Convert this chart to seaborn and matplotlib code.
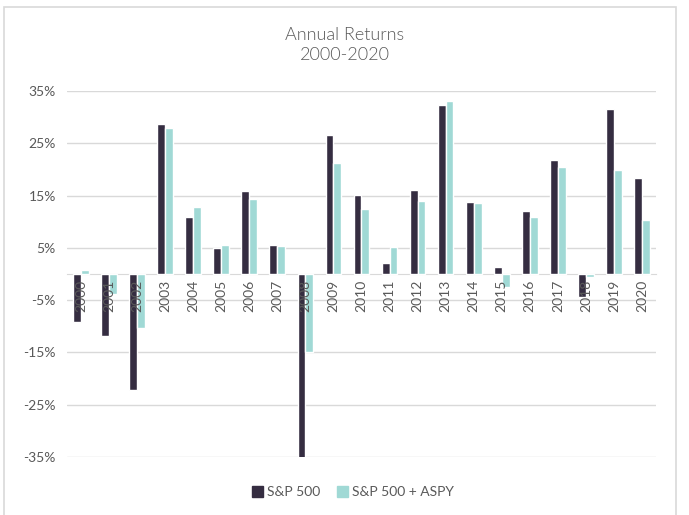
import matplotlib
matplotlib.use("Agg")
import matplotlib.pyplot as plt
import matplotlib.patches as mpatches
import pandas as pd
import seaborn as sns

years = [str(y) for y in range(2000, 2021)]
sp500 = [-9.1, -11.9, -22.1, 28.7, 10.9, 4.9, 15.8, 5.5, -37.0, 26.5, 15.1,
         2.1, 16.0, 32.4, 13.7, 1.4, 12.0, 21.8, -4.4, 31.5, 18.4]
sp500_aspy = [0.7, -3.9, -10.4, 27.9, 12.8, 5.5, 14.3, 5.4, -14.9, 21.2, 12.4,
              5.2, 13.9, 33.1, 13.6, -2.4, 10.9, 20.4, -0.5, 19.8, 10.4]
series_names = ["S&P 500", "S&P 500 + ASPY"]
colors = ["#352d41", "#a0d9d5"]
yticks = [-35, -25, -15, -5, 5, 15, 25, 35]

df = pd.DataFrame({
    "Year": years * 2,
    "Return": sp500 + sp500_aspy,
    "Series": [series_names[0]] * len(years) + [series_names[1]] * len(years),
})

sns.set_style("white")
plt.rcParams["font.family"] = ["Lato", "DejaVu Sans"]
text_color = "#595959"
grid_color = "#d9d9d9"

fig = plt.figure(figsize=(6.89, 5.15), dpi=100)
ax = fig.add_axes([0.0972, 0.1126, 0.8549, 0.7107])

sns.barplot(data=df, x="Year", y="Return", hue="Series", hue_order=series_names,
            palette=colors, width=0.56, gap=0, errorbar=None, saturation=1,
            legend=False, ax=ax)

ax.set_ylim(-35, 35)
ax.set_xlim(-0.5, len(years) - 0.5)
ax.set_yticks(yticks)
ax.set_yticklabels([f"{t}%" for t in yticks], fontsize=10, color=text_color)
ax.yaxis.grid(True, color=grid_color, lw=1)
ax.set_axisbelow(True)
# year labels sit on top of the bars, like in Excel
ax.xaxis.set_zorder(3)
ax.set_xlabel("")
ax.set_ylabel("")

for side in ["top", "right", "left"]:
    ax.spines[side].set_visible(False)
ax.spines["bottom"].set_position(("data", 0))
ax.spines["bottom"].set_color(grid_color)
ax.spines["bottom"].set_zorder(0.5)
ax.tick_params(axis="both", length=0)
ax.tick_params(axis="y", pad=8)
ax.tick_params(axis="x", pad=4)
plt.setp(ax.get_xticklabels(), rotation=90, fontsize=10, color=text_color)

fig.text(0.5, 1 - 45 / 515, "Annual Returns\n2000-2020", ha="center", va="center",
         fontsize=13, color=text_color, linespacing=1.35, fontweight=300)

handles = [mpatches.Patch(color=c, label=n) for c, n in zip(colors, series_names)]
fig.legend(handles=handles, loc="center", bbox_to_anchor=(0.512, 1 - 492 / 515),
           ncol=2, frameon=False, fontsize=10, handlelength=0.8, handleheight=0.8,
           handletextpad=0.3, columnspacing=1.2, labelcolor=text_color)

border = mpatches.Rectangle((4 / 689, -0.05), (676 - 4) / 689, 1.05 - 7 / 515,
                            transform=fig.transFigure, fill=False,
                            edgecolor=grid_color, lw=1.2)
fig.patches.append(border)

fig.savefig("out.png", dpi=100)
